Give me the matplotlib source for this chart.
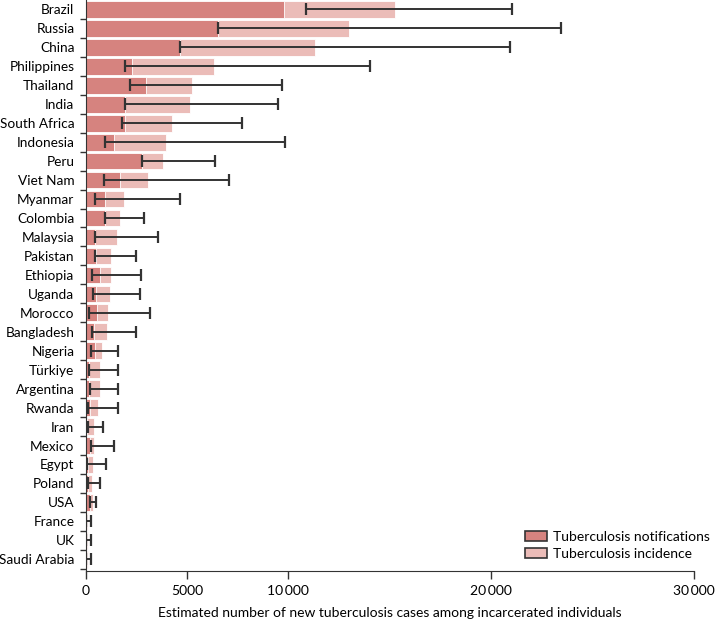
import matplotlib
matplotlib.use("Agg")
import matplotlib.pyplot as plt
import numpy as np

plt.rcParams['font.family'] = ['Lato', 'DejaVu Sans']

countries = ['Brazil', 'Russia', 'China', 'Philippines', 'Thailand', 'India',
             'South Africa', 'Indonesia', 'Peru', 'Viet Nam', 'Myanmar',
             'Colombia', 'Malaysia', 'Pakistan', 'Ethiopia', 'Uganda',
             'Morocco', 'Bangladesh', 'Nigeria', 'Türkiye', 'Argentina',
             'Rwanda', 'Iran', 'Mexico', 'Egypt', 'Poland', 'USA', 'France',
             'UK', 'Saudi Arabia']

# tuberculosis notifications (dark bars)
notifications = [9810, 6520, 4680, 2270, 2960, 1970, 1970, 1380, 2780, 1680,
                 940, 940, 460, 530, 690, 540, 580, 395, 445, 150,
                 165, 230, 80, 230, 115, 115, 230, 60, 60, 60]
# tuberculosis incidence (light bars)
incidence = [15240, 12970, 11300, 6330, 5230, 5130, 4260, 3980, 3830, 3090,
             1920, 1710, 1540, 1270, 1270, 1200, 1120, 1070, 805, 720,
             720, 640, 430, 430, 380, 330, 345, 115, 115, 115]
# uncertainty interval for incidence
inc_low = [10850, 6510, 4680, 1960, 2170, 1960, 1810, 940, 2780, 890,
           480, 940, 490, 480, 330, 345, 165, 310, 280, 180,
           200, 115, 115, 280, 65, 115, 230, 35, 35, 35]
inc_high = [21050, 23420, 20920, 14050, 9680, 9480, 7740, 9860, 6390, 7070,
            4650, 2860, 3580, 2500, 2760, 2680, 3170, 2500, 1610, 1610,
            1580, 1580, 855, 1400, 990, 690, 510, 250, 250, 250]

dark = '#d6837f'
light = '#ebbcb8'

y = np.arange(len(countries))
mid = (np.array(inc_low) + np.array(inc_high)) / 2

fig = plt.figure(figsize=(7.15, 6.2), dpi=100)
ax = fig.add_axes([0.1196, 0.079, 0.851, 0.921])

ax.barh(y, incidence, height=0.88, color=light, edgecolor='white', linewidth=0.6,
        label='Tuberculosis incidence', zorder=1)
ax.barh(y, notifications, height=0.88, color=dark, edgecolor='white', linewidth=0.6,
        label='Tuberculosis notifications', zorder=2)
ax.errorbar(mid, y, xerr=[mid - np.array(inc_low), np.array(inc_high) - mid],
            fmt='none', ecolor='#333333', elinewidth=1.4, capsize=4, capthick=1.6,
            zorder=3)

ax.set_ylim(29.62, -0.5)
ax.set_xlim(0, 30000)
ax.set_yticks(y)
ax.set_yticklabels(countries, fontsize=9.8)
ax.set_yticks(np.arange(len(countries)) + 0.5, minor=True)
ax.tick_params(axis='y', which='major', length=0, pad=8)
ax.tick_params(axis='y', which='minor', length=4, width=1, color='#333333')
ax.set_xticks([0, 5000, 10000, 20000, 30000])
ax.set_xticklabels(['0', '5000', '10\u2009000', '20\u2009000', '30\u2009000'], fontsize=10)
ax.tick_params(axis='x', length=6, width=1, color='#333333', pad=4)
ax.set_xlabel('Estimated number of new tuberculosis cases among incarcerated individuals',
              fontsize=10, labelpad=7)

for s in ['top', 'right']:
    ax.spines[s].set_visible(False)
ax.spines['left'].set_color('#333333')
ax.spines['bottom'].set_color('#333333')

h, l = ax.get_legend_handles_labels()
leg = ax.legend(h[::-1], l[::-1], loc='lower right', bbox_to_anchor=(1.035, 0.01),
                frameon=False, fontsize=10, handlelength=1.6, handleheight=0.8,
                handletextpad=0.4, borderaxespad=0, labelspacing=0.35)
for p in leg.get_patches():
    p.set_edgecolor('#333333')
    p.set_linewidth(1.2)

fig.savefig('out.png', dpi=100)
